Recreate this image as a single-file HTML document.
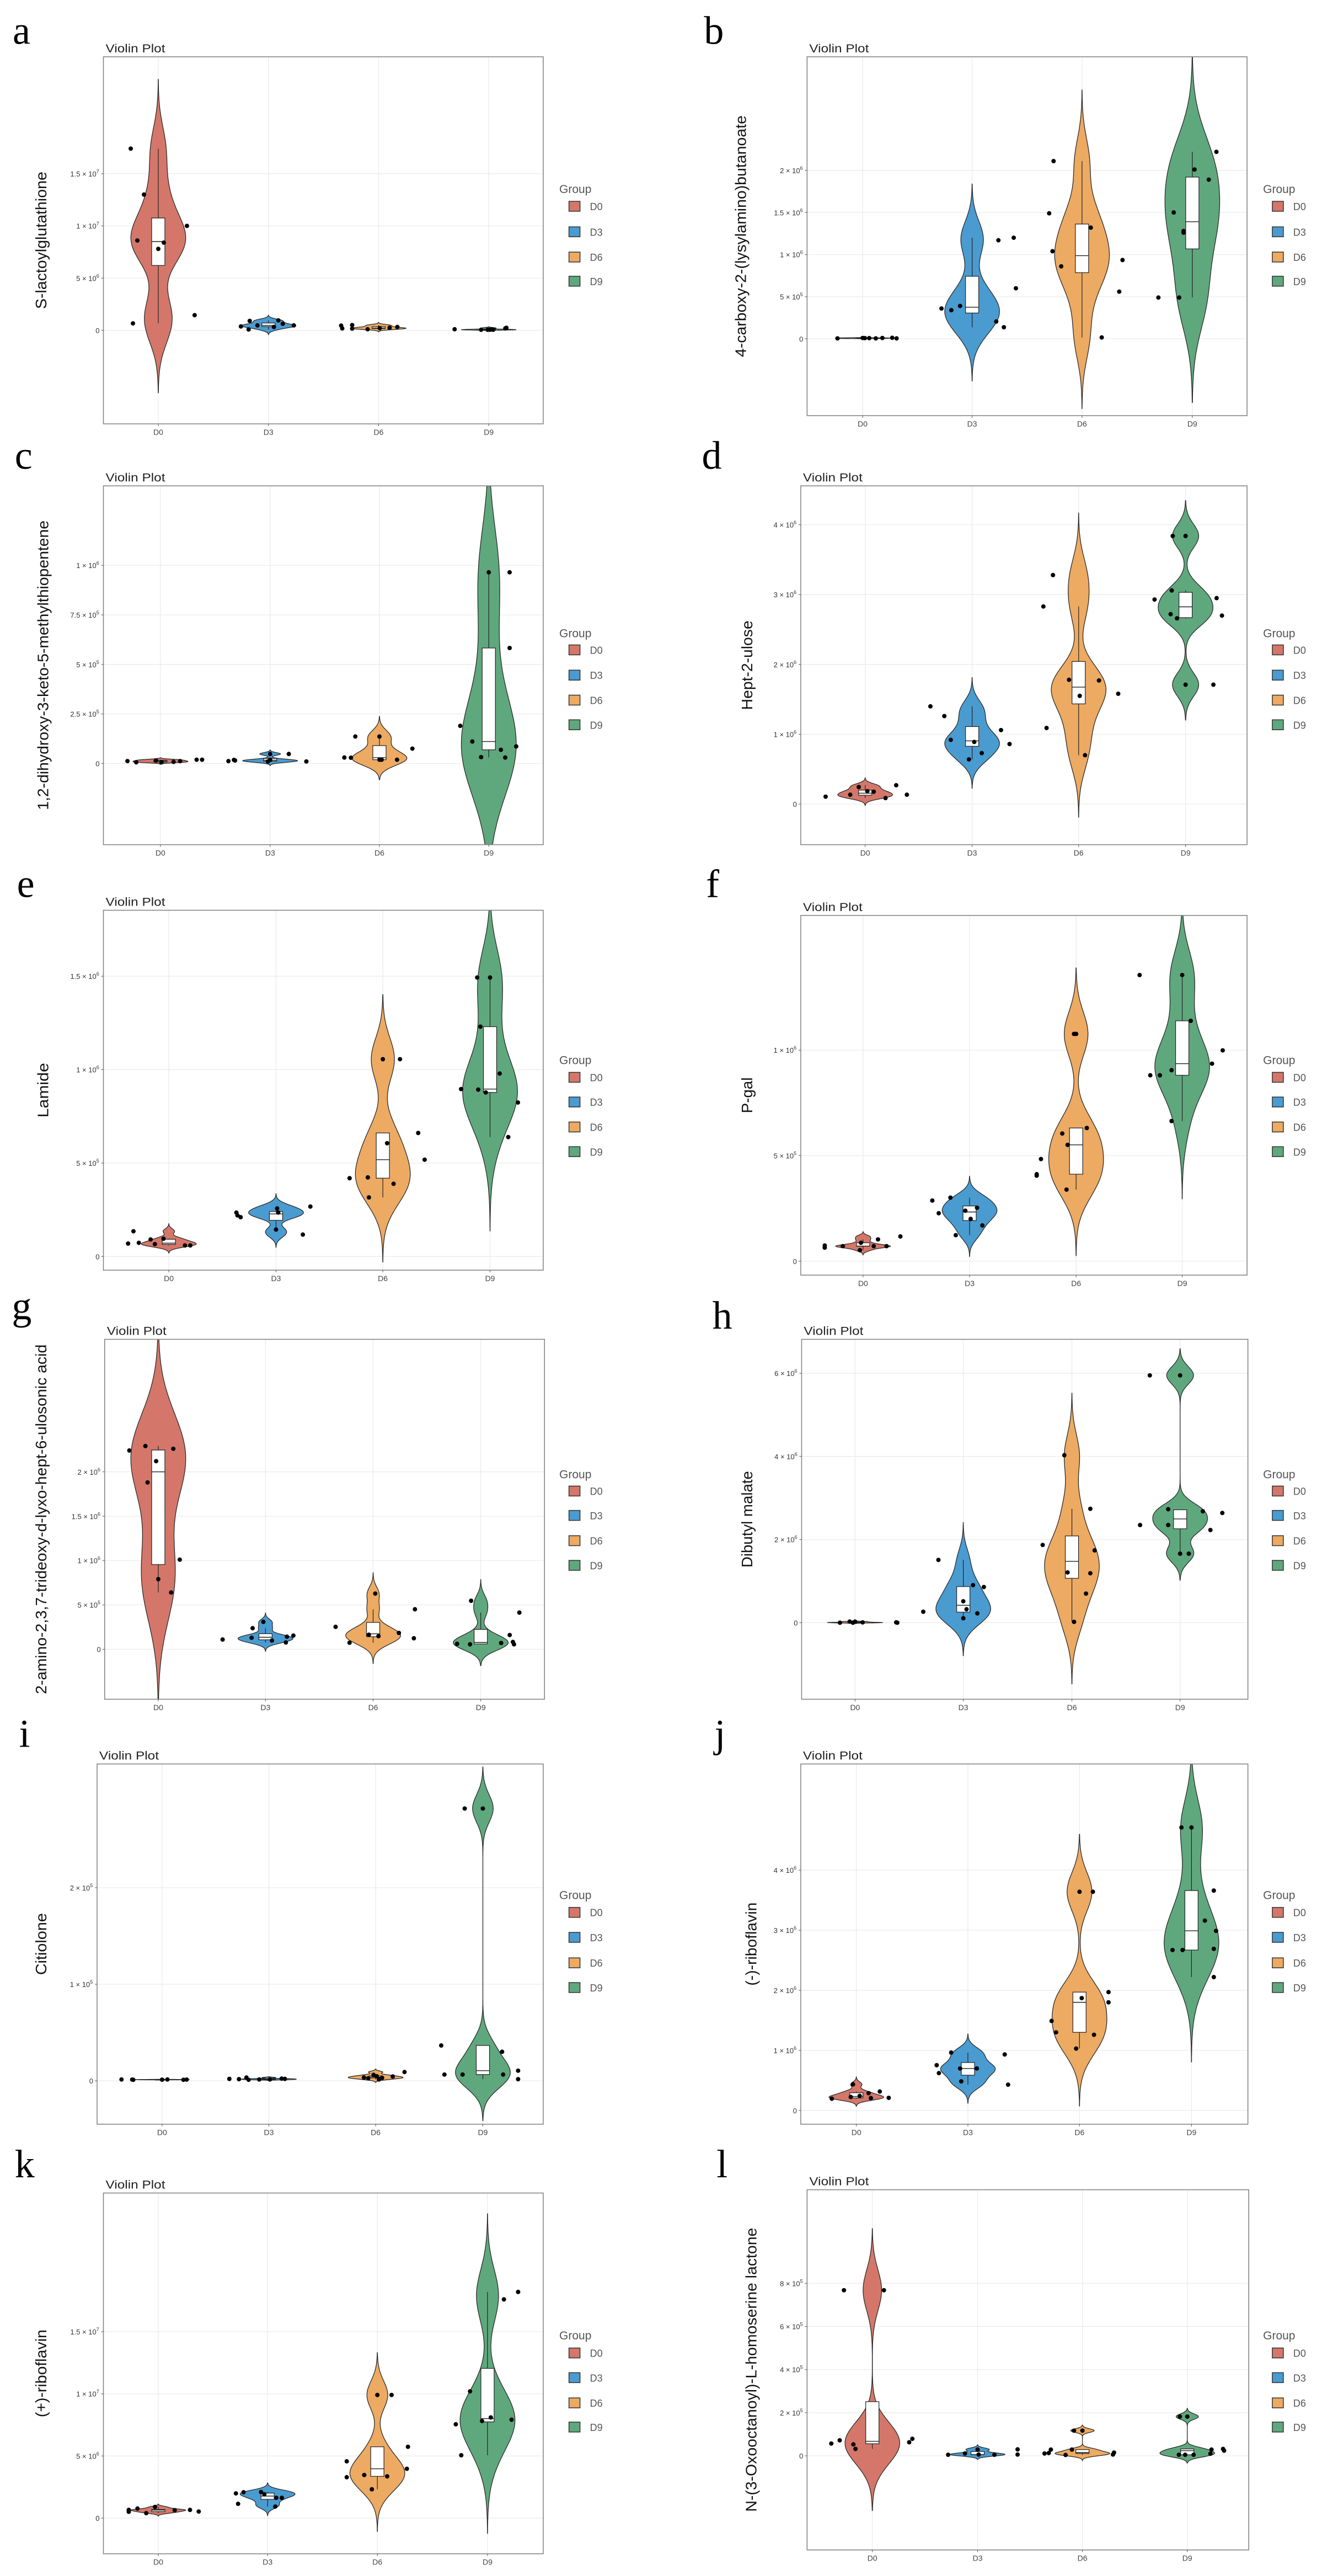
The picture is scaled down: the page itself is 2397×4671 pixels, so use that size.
<!DOCTYPE html>
<html><head><meta charset="utf-8"><style>
html,body{margin:0;padding:0;background:#fff;}
svg{display:block;}
</style></head><body>
<svg id="fig" xmlns="http://www.w3.org/2000/svg" width="2397" height="4671" viewBox="0 0 2397 4671">
<rect x="0" y="0" width="2397" height="4671" fill="#fff"/>
<defs id="defs"></defs>
</svg>
<script>
const categories = ["D0","D3","D6","D9"];
const groupColors = ["#D4776A","#4A9BD0","#EDAA62","#5FA87D"];

// ---- panel a (unit 1e6)
const aTicks = [0,5,10,15];
const aTickLabels = ["0",["5","6"],["1","7"],["1.5","7"]];
const aValues = [[17.4,13.0,10.0,8.6,8.4,7.8,1.45,0.66],[0.37,0.9,0.08,0.47,0.32,0.95,0.63,0.47],[0.45,0.18,0.5,0.16,0.1,0.24,0.32,0.2],[0.1,0.05,0.05,0.05,0.24,0.18,0.05,0.08]];
const aJitter = [[-0.25,-0.13,0.26,-0.19,0.05,0,0.33,-0.23],[-0.25,-0.17,-0.18,-0.1,0.05,0.09,0.13,0.23],[-0.34,-0.33,-0.24,-0.24,-0.1,0.1,0.17,0.01],[-0.31,-0.07,-0.01,0.04,0.16,0.15,0.01,0.03]];
// ---- panel b (unit 1e5)
const bTicks = [0,5,10,15,20];
const bTickLabels = ["0",["5","5"],["1","6"],["1.5","6"],["2","6"]];
const bValues = [[0.05,0.1,0.08,0.05,0.1,0.12,0.05,0.08],[3.6,3.4,3.9,11.7,12.0,6.0,2.05,1.37],[21.1,14.9,13.2,10.4,8.6,9.35,5.6,0.16],[22.2,20.1,18.9,15.0,12.6,12.8,4.9,4.9]];
const bJitter = [[-0.23,0,0.02,0.12,0.18,0.27,0.31,0.06],[-0.28,-0.19,-0.11,0.24,0.38,0.4,0.22,0.29],[-0.26,-0.3,0.08,-0.27,-0.19,0.37,0.34,0.18],[0.22,0.02,0.15,-0.17,-0.08,-0.08,-0.31,-0.12]];
// ---- panel c (unit 1e5)
const cTicks = [0,2.5,5,7.5,10];
const cTickLabels = ["0",["2.5","5"],["5","5"],["7.5","5"],["1","6"]];
const cValues = [[0.12,0.06,0.15,0.06,0.08,0.12,0.19,0.19],[0.12,0.18,0.15,0.18,0.48,0.48,0.1,0.1],[0.3,0.29,1.36,1.36,0.19,0.19,0.75,0.19],[9.65,9.65,5.83,1.9,1.11,0.32,0.69,0.3,0.86]];
const cJitter = [[-0.3,-0.22,-0.04,0.01,0.12,0.18,0.33,0.38],[-0.38,-0.33,-0.32,0,0,0.17,0.33,-0.02],[-0.32,-0.26,-0.22,0,0,0.16,0.3,0.02],[0,0.19,0.19,-0.26,-0.15,-0.07,0.11,0.15,0.25]];
// ---- panel d (unit 1e5)
const dTicks = [0,10,20,30,40];
const dTickLabels = ["0",["1","6"],["2","6"],["3","6"],["4","6"]];
const dValues = [[1.06,1.34,2.44,1.77,0.86,2.7,1.34,1.85],[14.0,12.6,9.2,8.9,6.4,7.3,10.6,8.6],[32.8,28.3,17.8,17.7,15.8,15.5,10.9,7.0],[38.4,38.4,29.3,30.6,29.5,27.2,26.6,27.0,17.1,17.1]];
const dJitter = [[-0.37,-0.14,-0.06,0.08,0.19,0.29,0.39,0.02],[-0.39,-0.26,-0.2,0.02,-0.03,0.09,0.27,0.35],[-0.24,-0.33,-0.09,0.19,0.37,0.01,-0.3,0.06],[-0.12,0,-0.29,-0.13,0.29,-0.14,-0.08,0.34,0,0.26]];
// ---- panel e (unit 1e5)
const eTicks = [0,5,10,15];
const eTickLabels = ["0",["5","5"],["1","6"],["1.5","6"]];
const eValues = [[0.69,1.35,0.73,0.91,0.66,0.95,0.59,0.59],[2.35,2.2,2.1,2.57,1.44,1.17,2.67,2.35],[4.19,4.23,3.16,10.56,10.56,6.06,3.89,6.61,5.18],[14.93,14.93,12.3,9.79,8.96,8.93,8.78,8.24,6.39]];
const eJitter = [[-0.38,-0.33,-0.28,-0.17,-0.13,-0.05,0.15,0.2],[-0.37,-0.36,-0.33,0.01,0,0.25,0.32,0.02],[-0.31,-0.14,-0.13,0,0.16,0.04,0.1,0.33,0.39],[-0.12,0,-0.09,0.09,-0.27,-0.11,-0.04,0.26,0.17]];
// ---- panel f (unit 1e5)
const fTicks = [0,5,10];
const fTickLabels = ["0",["5","5"],["1","6"]];
const fValues = [[0.74,0.64,0.71,0.52,0.71,1.03,0.71,1.17,0.87],[2.87,3.01,2.27,2.39,2.53,2.0,1.69,1.23],[10.77,10.77,6.05,6.31,5.51,4.84,4.12,4.05,3.39],[13.56,13.56,11.39,9.99,9.36,9.05,8.81,8.81,6.64]];
const fJitter = [[-0.36,-0.36,-0.19,-0.03,0.1,0.14,0.22,0.35,-0.02],[-0.35,-0.18,-0.29,-0.04,0.07,0.01,0.12,-0.13],[-0.02,0,-0.13,0.1,-0.08,-0.33,-0.37,-0.37,-0.09],[-0.4,0,0.08,0.38,0.28,-0.1,-0.3,-0.21,-0.1]];
// ---- panel g (unit 1e5)
const gTicks = [0,5,10,15,20];
const gTickLabels = ["0",["5","5"],["1","6"],["1.5","6"],["2","6"]];
const gValues = [[22.4,22.9,22.6,21.2,18.8,10.1,7.9,6.4],[1.1,1.3,2.38,3.09,0.99,0.77,1.42,1.55],[2.53,0.74,1.64,6.28,1.48,1.85,1.24,4.51],[0.62,0.56,5.47,0.71,1.61,0.83,0.56,4.14]];
const gJitter = [[-0.27,-0.12,0.14,-0.02,-0.1,0.2,0,0.12],[-0.4,-0.13,-0.12,-0.02,0.06,0.19,0.2,0.26],[-0.35,-0.22,-0.04,0.02,0.05,0.24,0.38,0.39],[-0.22,-0.1,-0.09,0.19,0.27,0.3,0.31,0.36]];
// ---- panel h (unit 1e5)
const hTicks = [0,20,40,60];
const hTickLabels = ["0",["2","6"],["4","6"],["6","6"]];
const hValues = [[0,0.26,0,0.26,0.07,0.07,0],[15.1,2.64,5.15,3.23,9.04,8.58,2.24,1.06],[40.3,27.4,18.7,17.4,12.1,11.9,7.0,0.2],[59.5,59.5,27.3,26.8,26.4,23.5,23.5,22.3,16.6,16.6]];
const hJitter = [[-0.14,-0.05,-0.02,0,0.07,0.38,0.39],[-0.23,-0.37,0,0.03,0.09,0.19,0.13,0],[-0.07,0.17,-0.27,0.21,-0.04,0.17,0.13,0.02],[-0.28,0,-0.11,0.21,0.39,-0.37,-0.11,0.28,0,0.08]];
// ---- panel i (unit 1e4)
const iTicks = [0,10,20];
const iTickLabels = ["0",["1","5"],["2","5"]];
const iValues = [[0.14,0.13,0.11,0.14,0.11,0.13,0.12],[0.2,0.17,0.34,0.11,0.14,0.23,0.2,0.14],[0.34,0.62,0.14,0.48,0.45,0.91,0.26,0.31],[28.2,28.2,3.66,3.01,1.05,0.17,0.65,0.65,0.65]];
const iJitter = [[-0.38,-0.28,-0.27,0.05,0.2,0.23,0],[-0.37,-0.28,-0.21,-0.19,-0.09,0.12,0.15,0.01],[-0.11,-0.02,0.03,0.01,0.16,0.27,-0.07,0.06],[-0.17,0,-0.39,0.18,0.33,0.33,-0.36,-0.19,0.19]];
// ---- panel j (unit 1e5)
const jTicks = [0,10,20,30,40];
const jTickLabels = ["0",["1","6"],["2","6"],["3","6"],["4","6"]];
const jValues = [[1.96,4.34,2.24,2.88,2.05,3.15,2.1,2.42],[7.53,6.21,9.63,6.99,4.84,6.99,9.32,4.29],[36.4,36.4,19.7,18.0,18.7,14.9,13.0,12.6,10.3],[47.1,47.1,36.6,31.6,29.9,26.9,26.7,26.7,22.2]];
const jJitter = [[-0.22,-0.03,-0.05,0.11,0.13,0.21,0.29,0.03],[-0.28,-0.26,-0.15,-0.07,-0.06,0.08,0.33,0.36],[0,0.12,0.26,0.26,0.02,-0.25,-0.21,0.13,-0.03],[-0.09,0,0.2,0.12,0.22,0.2,-0.17,-0.08,0.2]];
// ---- panel k (unit 1e6)
const kTicks = [0,5,10,15];
const kTickLabels = ["0",["5","6"],["1","7"],["1.5","7"]];
const kValues = [[0.66,0.51,0.77,0.4,0.9,0.64,0.66,0.53],[1.99,1.15,2.08,2.1,1.92,1.63,1.63,0.93],[9.91,9.91,5.74,4.57,3.97,3.47,3.36,3.29,2.32],[18.2,17.6,10.2,7.55,7.92,7.81,8.1,5.06]];
const kJitter = [[-0.27,-0.27,-0.19,-0.11,-0.03,0.15,0.29,0.37],[-0.29,-0.27,-0.22,-0.06,-0.03,0.08,0.13,0.07],[0,0.13,0.28,-0.28,0.27,-0.12,0.09,-0.28,-0.05],[0.28,0.15,-0.16,-0.29,0.22,-0.05,0.03,-0.24]];
// ---- panel l (unit 1e5)
const lTicks = [0,2,4,6,8];
const lTickLabels = ["0",["2","5"],["4","5"],["6","5"],["8","5"]];
const lValues = [[7.68,7.68,0.63,0.79,0.57,0.72,0.53,0.32],[0.05,0.11,0.29,0.05,0.3,0.06,0.06],[1.17,1.17,0.29,0.11,0.13,0.29,0.04,0.06,0.15],[1.82,1.82,0.05,0.05,0.1,0.29,0.32,0.24,0.05]];
const lJitter = [[-0.27,0.11,0.35,0.38,-0.39,-0.31,-0.18,-0.16],[-0.28,-0.12,0,0.16,0.38,0.38,0.01],[-0.08,0,-0.1,-0.36,-0.32,-0.3,-0.16,0.29,0.3],[-0.07,0,-0.08,0.06,0.22,0.23,0.34,0.35,-0.02]];

const layouts = [
 {id:"a",col:0,row:0,rect:[245,207,1287,1545],cats:[375,636,897,1158],zero:1204,unit:38.06,tx:100,tlen:500,title:"S-lactoylglutathione",letter:[30,160],leg:690,keys:[752,845,937,1025],ticks:aTicks,labels:aTickLabels,values:aValues,jitter:aJitter},
 {id:"b",col:1,row:0,rect:[345,207,1390,1515],cats:[477,737,998,1260],zero:1235,unit:30.7,tx:190,tlen:880,title:"4-carboxy-2-(lysylamino)butanoate",letter:[100,160],leg:690,keys:[752,845,937,1025],ticks:bTicks,labels:bTickLabels,values:bValues,jitter:bJitter},
 {id:"c",col:0,row:1,rect:[245,207,1287,1515],cats:[380,640,899,1158],zero:1219,unit:72.2,tx:105,tlen:1055,title:"1,2-dihydroxy-3-keto-5-methylthiopentene",letter:[35,145],leg:745,keys:[805,897,988,1078],ticks:cTicks,labels:cTickLabels,values:cValues,jitter:cJitter},
 {id:"d",col:1,row:1,rect:[330,207,1390,1515],cats:[483,737,990,1244],zero:1367,unit:25.45,tx:205,tlen:325,title:"Hept-2-ulose",letter:[95,145],leg:745,keys:[805,897,988,1078],ticks:dTicks,labels:dTickLabels,values:dValues,jitter:dJitter},
 {id:"e",col:0,row:2,rect:[245,188,1287,1500],cats:[400,654,907,1161],zero:1450,unit:68.1,tx:105,tlen:200,title:"Lamide",letter:[40,140],leg:735,keys:[797,887,978,1068],ticks:eTicks,labels:eTickLabels,values:eValues,jitter:eJitter},
 {id:"f",col:1,row:2,rect:[330,207,1390,1518],cats:[478,731,984,1236],zero:1467,unit:76.9,tx:205,tlen:130,title:"P-gal",letter:[105,140],leg:735,keys:[797,887,978,1068],ticks:fTicks,labels:fTickLabels,values:fValues,jitter:fJitter},
 {id:"g",col:0,row:3,rect:[248,188,1290,1500],cats:[375,629,884,1139],zero:1318,unit:32.35,tx:100,tlen:1275,title:"2-amino-2,3,7-trideoxy-d-lyxo-hept-6-ulosonic acid",letter:[28,115],leg:680,keys:[741,830,922,1012],ticks:gTicks,labels:gTickLabels,values:gValues,jitter:gJitter},
 {id:"h",col:1,row:3,rect:[332,188,1392,1500],cats:[459,716,974,1231],zero:1221,unit:15.15,tx:205,tlen:352,title:"Dibutyl malate",letter:[120,150],leg:680,keys:[741,830,922,1012],ticks:hTicks,labels:hTickLabels,values:hValues,jitter:hJitter},
 {id:"i",col:0,row:4,rect:[230,172,1287,1485],cats:[384,637,890,1144],zero:1327,unit:35.2,tx:100,tlen:225,title:"Citiolone",letter:[45,110],leg:650,keys:[713,804,897,987],ticks:iTicks,labels:iTickLabels,values:iValues,jitter:iJitter},
 {id:"j",col:1,row:4,rect:[330,172,1392,1485],cats:[462,727,992,1258],zero:1435,unit:21.9,tx:215,tlen:303,title:"(-)-riboflavin",letter:[125,110],leg:650,keys:[713,804,897,987],ticks:jTicks,labels:jTickLabels,values:jValues,jitter:jJitter},
 {id:"k",col:0,row:5,rect:[245,172,1287,1487],cats:[375,634,894,1155],zero:1357,unit:45.3,tx:100,tlen:320,title:"(+)-riboflavin",letter:[35,115],leg:692,keys:[755,845,937,1025],ticks:kTicks,labels:kTickLabels,values:kValues,jitter:kJitter},
 {id:"l",col:1,row:5,rect:[345,160,1394,1473],cats:[500,750,999,1248],zero:1130,unit:78.6,tx:215,tlen:1035,title:"N-(3-Oxooctanoyl)-L-homoserine lactone",letter:[130,115],leg:692,keys:[755,845,937,1025],ticks:lTicks,labels:lTickLabels,values:lValues,jitter:lJitter}
];

const NS = "http://www.w3.org/2000/svg";
const svg = document.getElementById("fig");
const defs = document.getElementById("defs");
const ROWY = [0,778,1557,2335,3113,3891];
const COLX = [0,1200];
const COLW = [1200,1197];
const SY = 780/1568;
const ADJUST = 1.1;

function mk(tag, attrs, parent){
  const e = document.createElementNS(NS, tag);
  for (const k in attrs) e.setAttribute(k, attrs[k]);
  parent.appendChild(e);
  return e;
}
function quant(s, p){
  const h = (s.length-1)*p, lo = Math.floor(h), hi = Math.min(lo+1, s.length-1);
  return s[lo] + (h-lo)*(s[hi]-s[lo]);
}
function stats(vals){
  const s = vals.slice().sort((x,y)=>x-y);
  const n = s.length;
  const mean = s.reduce((a,b)=>a+b,0)/n;
  const sd = Math.sqrt(s.reduce((a,b)=>a+(b-mean)*(b-mean),0)/(n-1));
  const q1 = quant(s,0.25), med = quant(s,0.5), q3 = quant(s,0.75);
  const iqr = q3-q1;
  let lo = Math.min(sd, iqr/1.34);
  if (!(lo>0)) lo = sd>0 ? sd : (Math.abs(s[0])*0.1 || 0.01);
  const bw = ADJUST*0.9*lo*Math.pow(n,-0.2);
  const wLo = s.find(v=>v>=q1-1.5*iqr), wHi = s.slice().reverse().find(v=>v<=q3+1.5*iqr);
  return {s,q1,med,q3,bw,wLo,wHi};
}

layouts.forEach(function(L){
  const ox = COLX[L.col], oy = ROWY[L.row], sx = COLW[L.col]/1568;
  const px = d => ox + d*sx;
  const py = d => oy + d*SY;
  const yOf = v => py(L.zero - v*L.unit);
  const xOf = i => px(L.cats[i]);
  const catStep = (L.cats[1]-L.cats[0])*sx;
  const x1 = px(L.rect[0]), y1 = py(L.rect[1]), x2 = px(L.rect[2]), y2 = py(L.rect[3]);

  const cp = mk("clipPath", {id:"clip-" + L.id}, defs);
  mk("rect", {x:x1, y:y1, width:x2-x1, height:y2-y1}, cp);

  const g = mk("g", {}, svg);
  
  

  const letter = mk("text", {x:px(L.letter[0]), y:py(L.letter[1]), "font-family":"'Liberation Serif', serif", "font-size":72, fill:"#000"}, g);
  letter.textContent = L.id;
  
  

  const ttl = mk("text", {x:x1+4, y:y1-8, "font-family":"'Liberation Sans', sans-serif", "font-size":21, fill:"#222", textLength:108, lengthAdjust:"spacingAndGlyphs"}, g);
  ttl.textContent = "Violin Plot";
  
  

  L.ticks.forEach(function(t){
    const gl = mk("line", {x1:x1, x2:x2, y1:yOf(t), y2:yOf(t), stroke:"#ebebeb", "stroke-width":1.3}, g);
    
    
  });
  categories.forEach(function(c,i){
    const gl = mk("line", {x1:xOf(i), x2:xOf(i), y1:y1, y2:y2, stroke:"#ebebeb", "stroke-width":1.3}, g);
    
    
  });

  const plotArea = mk("g", {"clip-path":"url(#clip-" + L.id + ")"}, g);
  
  

  L.values.forEach(function(vals, gi){
    const st = stats(vals);
    const lo = st.s[0] - 3*st.bw, hi = st.s[st.s.length-1] + 3*st.bw;
    const N = 200, dens = [];
    for (let k=0; k<=N; k++){
      const y = lo + (hi-lo)*k/N;
      let d = 0;
      vals.forEach(v => { const z=(y-v)/st.bw; d += Math.exp(-0.5*z*z); });
      dens.push([y,d]);
    }
    const mx = Math.max(...dens.map(p=>p[1]));
    const HW = 65*sx, cx = xOf(gi);
    let dstr = "";
    dens.forEach((p,k)=>{ dstr += (k?"L":"M") + (cx + p[1]/mx*HW).toFixed(1) + "," + yOf(p[0]).toFixed(1); });
    for (let k=dens.length-1; k>=0; k--){ const p=dens[k]; dstr += "L" + (cx - p[1]/mx*HW).toFixed(1) + "," + yOf(p[0]).toFixed(1); }
    dstr += "Z";
    const vio = mk("path", {d:dstr, fill:groupColors[gi], stroke:"#2b2b2b", "stroke-width":1.3}, plotArea);
    
    

    const bw = 12;
    const wh1 = mk("line", {x1:cx, x2:cx, y1:yOf(st.q3), y2:yOf(st.wHi), stroke:"#222", "stroke-width":1.2}, plotArea);
    
    
    const wh2 = mk("line", {x1:cx, x2:cx, y1:yOf(st.q1), y2:yOf(st.wLo), stroke:"#222", "stroke-width":1.2}, plotArea);
    
    
    const bx = mk("rect", {x:cx-bw, y:yOf(st.q3), width:2*bw, height:Math.max(1, yOf(st.q1)-yOf(st.q3)), fill:"#fff", stroke:"#222", "stroke-width":1.2}, plotArea);
    
    
    const md = mk("line", {x1:cx-bw, x2:cx+bw, y1:yOf(st.med), y2:yOf(st.med), stroke:"#222", "stroke-width":1.4}, plotArea);
    
    

    vals.forEach(function(v, k){
      const j = L.jitter[gi][k] || 0;
      const pt = mk("circle", {cx:cx + j*catStep, cy:yOf(v), r:4, fill:"#000"}, plotArea);
      
      
    });
  });

  const bd = mk("rect", {x:x1, y:y1, width:x2-x1, height:y2-y1, fill:"none", stroke:"#7f7f7f", "stroke-width":1.5}, g);
  
  

  L.ticks.forEach(function(t, k){
    const tm = mk("line", {x1:x1-4, x2:x1, y1:yOf(t), y2:yOf(t), stroke:"#555", "stroke-width":1}, g);
    
    
    const lab = L.labels[k];
    const tx = mk("text", {x:x1-7, y:yOf(t)+5, "text-anchor":"end", "font-family":"'Liberation Sans', sans-serif", "font-size":13, fill:"#333"}, g);
    
    
    if (typeof lab === "string") { tx.textContent = lab; }
    else {
      const a = mk("tspan", {}, tx); a.textContent = lab[0] + " \u00d7 10";
      const b = mk("tspan", {dy:-6, "font-size":9}, tx); b.textContent = lab[1];
      const c = mk("tspan", {dy:6, "font-size":9}, tx); c.textContent = "\u200a";
    }
  });

  categories.forEach(function(c, i){
    const tm = mk("line", {x1:xOf(i), x2:xOf(i), y1:y2, y2:y2+4, stroke:"#555", "stroke-width":1}, g);
    
    
    const t = mk("text", {x:xOf(i), y:y2+20, "text-anchor":"middle", "font-family":"'Liberation Sans', sans-serif", "font-size":14, fill:"#444"}, g);
    t.textContent = c;
    
    
  });

  const tcx = px(L.tx), tcy = (y1+y2)/2;
  const yt = mk("text", {x:tcx, y:tcy, transform:"rotate(-90 " + tcx + " " + tcy + ")", "text-anchor":"middle", "dominant-baseline":"middle", "font-family":"'Liberation Sans', sans-serif", "font-size":28, fill:"#111", textLength:(L.tlen*SY).toFixed(0), lengthAdjust:"spacingAndGlyphs"}, g);
  yt.textContent = L.title;
  
  

  const gx = L.col ? 1428 : 1325, kx = L.col ? 1450 : 1348;
  const lg = mk("text", {x:px(gx), y:py(L.leg)+7, "font-family":"'Liberation Sans', sans-serif", "font-size":21, fill:"#555"}, g);
  lg.textContent = "Group";
  
  
  categories.forEach(function(c, i){
    const ky = py(L.keys[i]);
    const sq = mk("rect", {x:px(kx), y:ky-9, width:20, height:18, fill:groupColors[i], stroke:"#333", "stroke-width":1.5}, g);
    
    
    const lt = mk("text", {x:px(kx)+38, y:ky+7, "font-family":"'Liberation Sans', sans-serif", "font-size":18, fill:"#555"}, g);
    lt.textContent = c;
    
    
  });
});
</script>
</body></html>
